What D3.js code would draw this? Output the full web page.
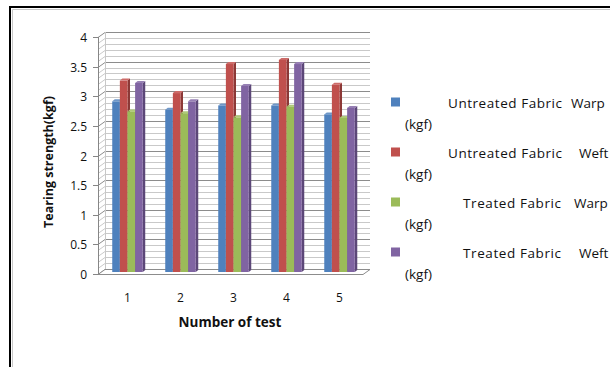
<!DOCTYPE html>
<html>
<head>
<meta charset="utf-8">
<script src="https://cdn.jsdelivr.net/npm/d3@7"></script>
<style>
  html, body { margin: 0; padding: 0; background: #fff; }
  svg { display: block; }
  text { font-family: "Open Sans", "Liberation Sans", sans-serif; fill: #111; }
</style>
</head>
<body>
<svg id="chart" width="610" height="367"></svg>
<script>
// Test numbers along the category axis
const tests = ["1", "2", "3", "4", "5"];

// Tearing strength (kgf) for each series
const untreatedWarp = [2.88, 2.74, 2.81, 2.81, 2.66];
const untreatedWeft = [3.23, 3.02, 3.51, 3.58, 3.16];
const treatedWarp   = [2.71, 2.68, 2.61, 2.79, 2.60];
const treatedWeft   = [3.19, 2.88, 3.14, 3.51, 2.77];

const seriesNames = [
  ["Untreated Fabric", "Warp"],
  ["Untreated Fabric", "Weft"],
  ["Treated Fabric", "Warp"],
  ["Treated Fabric", "Weft"]
];
const unitLabel = "(kgf)";
const yTicks = [0, 0.5, 1, 1.5, 2, 2.5, 3, 3.5, 4];
const yTitle = "Tearing strength(kgf)";
const xTitle = "Number of test";

const series = [untreatedWarp, untreatedWeft, treatedWarp, treatedWeft];
const fronts = ["#4F81BD", "#C0504D", "#9BBB59", "#8064A2"];
const sides  = ["#36598A", "#8C3836", "#71893F", "#5C4778"];
const tops   = ["#6F97C8", "#CD6B68", "#AFC97A", "#9780B4"];

const svg = d3.select("#chart");

// outer frame
svg.append("path").attr("d", "M10,367 V7 H610").attr("fill", "none")
  .attr("stroke", "#000").attr("stroke-width", 2);
svg.append("path").attr("d", "M12.5,367 V9.5 H610").attr("fill", "none")
  .attr("stroke", "#c8c8c8").attr("stroke-width", 1);

// 3D geometry: front plane and wall depth
const x0 = 98, x1 = 363;
const depth = { dx: 7, dy: -5 };
const y = d3.scaleLinear().domain([0, 4]).range([274, 37]);

const x = d3.scaleBand().domain(tests).range([x0, x1]).paddingInner(0.4245).paddingOuter(0.212);
const barW = x.bandwidth() / 4;
const barShift = { dx: 3, dy: -2 };
const barDepth = { dx: 2.5, dy: -2 };

// wall gridlines (minor every 0.1, major every 0.5)
const grid = svg.append("g");
const minor = d3.range(0, 41).map(i => i / 10);
minor.forEach(v => {
  const isMajor = Math.abs(v * 2 - Math.round(v * 2)) < 1e-6;
  const yy = Math.round(y(v)) + 0.5;
  grid.append("path")
    .attr("d", `M${x0},${yy} L${x0 + depth.dx},${yy + depth.dy} H${x1 + depth.dx}`)
    .attr("fill", "none")
    .attr("stroke", isMajor ? "#8c8c8c" : "#c9c9c9")
    .attr("stroke-width", 1);
});
// back corner of the side wall
grid.append("line").attr("x1", x0 + depth.dx + 0.5).attr("x2", x0 + depth.dx + 0.5)
  .attr("y1", y(4) + depth.dy).attr("y2", y(0) + depth.dy).attr("stroke", "#c8c8c8");

// floor
const fy = Math.round(y(0)) + 0.5;
svg.append("path")
  .attr("d", `M${x0},${fy} H${x1} L${x1 + depth.dx},${fy + depth.dy} H${x0 + depth.dx} Z`)
  .attr("fill", "#fff").attr("stroke", "#8c8c8c").attr("stroke-width", 1);

// value axis line and ticks
const axisG = svg.append("g");
axisG.append("line").attr("x1", x0 + 0.5).attr("x2", x0 + 0.5)
  .attr("y1", y(4)).attr("y2", y(0) + 0.5).attr("stroke", "#868686");
yTicks.forEach(t => {
  const yy = Math.round(y(t)) + 0.5;
  axisG.append("line").attr("x1", x0 - 5).attr("x2", x0 + 0.5)
    .attr("y1", yy).attr("y2", yy).attr("stroke", "#868686");
  axisG.append("text").attr("x", 87).attr("y", yy + 4.5)
    .attr("text-anchor", "end").attr("font-size", 12).text(t);
});

// bars
const bars = svg.append("g");
tests.forEach((t, ci) => {
  series.forEach((s, si) => {
    const v = s[ci];
    const bx = x(t) + si * barW + barShift.dx;
    const by = y(v) + barShift.dy;
    const bb = y(0) + barShift.dy;
    const g = bars.append("g");
    // right side face
    g.append("path")
      .attr("d", `M${bx + barW},${by} L${bx + barW + barDepth.dx},${by + barDepth.dy} V${bb + barDepth.dy} L${bx + barW},${bb} Z`)
      .attr("fill", sides[si]);
    // top face
    g.append("path")
      .attr("d", `M${bx},${by} L${bx + barDepth.dx},${by + barDepth.dy} H${bx + barW + barDepth.dx} L${bx + barW},${by} Z`)
      .attr("fill", tops[si]);
    // front face
    g.append("rect").attr("x", bx).attr("y", by)
      .attr("width", barW).attr("height", bb - by)
      .attr("fill", fronts[si]);
  });
});

// category labels
tests.forEach(t => {
  svg.append("text").attr("x", x(t) + x.bandwidth() / 2 + 3).attr("y", 302)
    .attr("text-anchor", "middle").attr("font-size", 12).text(t);
});

// axis titles
svg.append("text").attr("x", 230).attr("y", 327)
  .attr("text-anchor", "middle").attr("font-size", 13.5).attr("font-weight", "bold")
  .text(xTitle);
svg.append("text").attr("transform", "translate(53,162) rotate(-90)")
  .attr("text-anchor", "middle").attr("font-size", 12.5).attr("font-weight", "bold")
  .text(yTitle);

// legend
const legend = svg.append("g");
const nameX = [448, 448, 463, 463];
const nameLen = [114, 114, 98, 98];
const kindX = [571, 579, 574, 579];
seriesNames.forEach((nm, i) => {
  const cy = 102 + i * 50;
  legend.append("rect").attr("x", 391).attr("y", cy - 4.5)
    .attr("width", 9).attr("height", 9).attr("fill", fronts[i]);
  legend.append("text").attr("x", nameX[i]).attr("y", cy + 5.5)
    .attr("font-size", 13.5).attr("textLength", nameLen[i]).attr("lengthAdjust", "spacing")
    .text(nm[0]);
  legend.append("text").attr("x", kindX[i]).attr("y", cy + 5.5)
    .attr("font-size", 13.5).text(nm[1]);
  legend.append("text").attr("x", 405).attr("y", cy + 26.5)
    .attr("font-size", 13.5).text(unitLabel);
});
</script>
</body>
</html>
